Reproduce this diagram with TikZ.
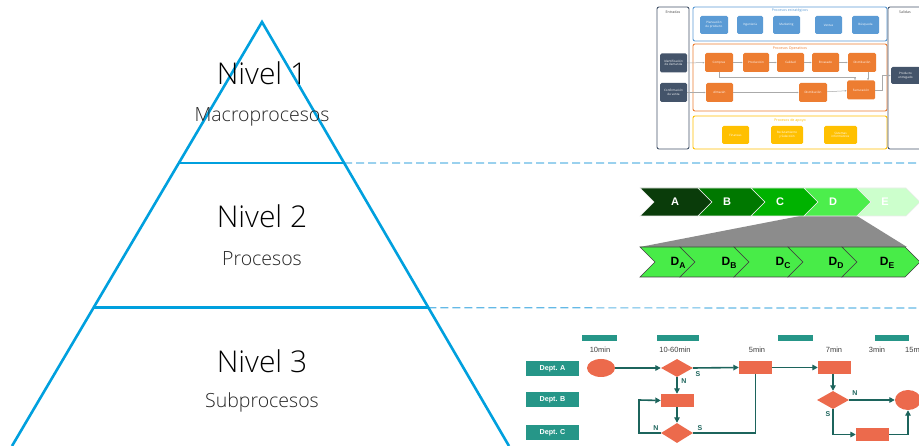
\documentclass[tikz,border=0pt]{standalone}
\usepackage{fontspec}
\setmainfont{Open Sans}
\newfontfamily\lightf{Open Sans Light}
\newfontfamily\arialf{Liberation Sans}
\usetikzlibrary{shapes.geometric,arrows.meta,calc}

\definecolor{pyrblue}{RGB}{0,160,222}
\definecolor{dashblue}{RGB}{100,185,230}
\definecolor{gdark}{RGB}{68,84,106}
\definecolor{gblue}{RGB}{91,155,213}
\definecolor{gorange}{RGB}{237,125,49}
\definecolor{gyellow}{RGB}{255,192,0}
\definecolor{garrowc}{RGB}{170,170,170}
\definecolor{cA}{RGB}{10,60,10}
\definecolor{cB}{RGB}{0,120,0}
\definecolor{cC}{RGB}{0,178,0}
\definecolor{cD}{RGB}{76,238,76}
\definecolor{cE}{RGB}{204,255,204}
\definecolor{cDD}{RGB}{72,236,72}
\definecolor{trap}{RGB}{140,140,140}
\definecolor{fcoral}{RGB}{236,106,76}
\definecolor{fteal}{RGB}{38,150,136}
\definecolor{fline}{RGB}{28,100,92}

\begin{document}
\begin{tikzpicture}[x=1pt,y=-1pt,
  pyr/.style={draw=pyrblue,line width=2.6pt},
  lvl/.style={font=\lightf\fontsize{30}{36}\selectfont,text=black,anchor=base,inner sep=0pt},
  lvlsub/.style={font=\lightf\fontsize{19.5}{24}\selectfont,text=black!85,anchor=base,inner sep=0pt},
  sep/.style={draw=dashblue,line width=1.2pt,dash pattern=on 8pt off 4pt},
  % macro-process map
  frame/.style={rounded corners=2pt,line width=0.9pt},
  ttl/.style={font=\fontsize{3.6}{4}\selectfont,inner sep=0pt},
  mbox/.style={rounded corners=1.5pt,inner sep=0pt,align=center,text=white,
    font=\fontsize{3}{3.6}\selectfont},
  marrow/.style={draw=garrowc,line width=0.5pt,-{Latex[length=2pt,width=1.8pt]}},
  % chevron chain
  chevtop/.style={draw=white!85!gray,line width=0.6pt},
  chevbot/.style={draw=black!75,line width=0.6pt,fill=cDD},
  toplab/.style={font=\arialf\bfseries\fontsize{11}{12}\selectfont,text=white,inner sep=0pt},
  botlab/.style={font=\arialf\bfseries\fontsize{12}{13}\selectfont,text=black,inner sep=0pt},
  % sub-process flowchart
  tbar/.style={fill=fteal,minimum width=#1,minimum height=6pt,inner sep=0pt},
  tlab/.style={font=\arialf\fontsize{7.5}{8}\selectfont,text=black!75,inner sep=0pt},
  dept/.style={fill=fteal,text=white,font=\arialf\bfseries\fontsize{7.2}{8}\selectfont,
    minimum width=53pt,minimum height=15pt,inner sep=0pt},
  fbox/.style={fill=fcoral,minimum width=33pt,minimum height=13pt,inner sep=0pt},
  fdia/.style={diamond,fill=fcoral,minimum width=32pt,minimum height=18pt,inner sep=0pt},
  fell/.style={ellipse,fill=fcoral,minimum width=28pt,minimum height=18pt,inner sep=0pt},
  flow/.style={draw=fline,line width=1.6pt,-{Triangle[length=5.5pt,width=5.5pt]}},
  fflat/.style={draw=fline,line width=1.6pt},
  flab/.style={font=\arialf\bfseries\fontsize{7}{8}\selectfont,text=fline,inner sep=0pt}
]
\useasboundingbox (0,0) rectangle (919,446);
\fill[white] (0,0) rectangle (919,446);

% ---------------- pyramid ----------------
\coordinate (apex) at (262,22);
\coordinate (bl) at (12,446);
\coordinate (br) at (509,446);
\coordinate (l1) at ($(apex)!0.3325!(bl)$);
\coordinate (r1) at ($(apex)!0.3325!(br)$);
\coordinate (l2) at ($(apex)!0.674!(bl)$);
\coordinate (r2) at ($(apex)!0.674!(br)$);
\coordinate (e1) at (919,163);
\coordinate (e2) at (919,308);

\draw[sep] (r1) -- (e1);
\draw[sep] (r2) -- (e2);
\draw[pyr,line join=miter] (bl) -- (apex) -- (br);
\draw[pyr] (l1) -- (r1);
\draw[pyr] (l2) -- (r2);

\node[lvl] (niv1) at (262,85) {Nivel 1};
\node[lvlsub] (sub1) at (262,122) {Macroprocesos};
\node[lvl] (niv2) at (262,228) {Nivel 2};
\node[lvlsub] (sub2) at (262,266) {Procesos};
\node[lvl] (niv3) at (262,373) {Nivel 3};
\node[lvlsub] (sub3) at (262,407) {Subprocesos};

% ---------------- macro-process map ----------------
\draw[frame,draw=gdark] (657,7) rectangle (689,149);
\draw[frame,draw=gblue] (693,7) rectangle (887,41);
\draw[frame,draw=gorange] (693,44) rectangle (887,111);
\draw[frame,draw=gyellow] (693,116) rectangle (887,149);
\draw[frame,draw=gdark] (888,7) rectangle (940,149);

\node[ttl,text=black!70] (tin) at (673,12) {Entradas};
\node[ttl,text=gblue] (test) at (790,11) {Procesos estratégicos};
\node[ttl,text=gorange] (top) at (790,49) {Procesos Operativos};
\node[ttl,text=gyellow] (tap) at (790,120.5) {Procesos de apoyo};
\node[ttl,text=black!70] (tout) at (905,12) {Salidas};

\node[mbox,fill=gblue,minimum width=28pt,minimum height=18pt] (s1) at (714,25) {Planeación\\de producto};
\node[mbox,fill=gblue,minimum width=26pt,minimum height=18pt] (s2) at (750,25) {Ingeniería};
\node[mbox,fill=gblue,minimum width=27pt,minimum height=18pt] (s3) at (786.5,25) {Marketing};
\node[mbox,fill=gblue,minimum width=27pt,minimum height=18pt] (s4) at (828.5,25) {Ventas};
\node[mbox,fill=gblue,minimum width=27pt,minimum height=18pt] (s5) at (865.5,25) {Búsqueda};

\node[mbox,fill=gdark,minimum width=27pt,minimum height=19pt] (in1) at (673.5,63) {Identificación\\de demanda};
\node[mbox,fill=gdark,minimum width=27pt,minimum height=19pt] (in2) at (673.5,92.5) {Confirmación\\de venta};
\node[mbox,fill=gdark,minimum width=29pt,minimum height=17pt] (out1) at (905.5,75.5) {Producto\\entregado};

\node[mbox,fill=gorange,minimum width=28pt,minimum height=19pt] (o1) at (719,62.5) {Compras};
\node[mbox,fill=gorange,minimum width=26pt,minimum height=19pt] (o2) at (756,62.5) {Producción};
\node[mbox,fill=gorange,minimum width=27pt,minimum height=19pt] (o3) at (790.5,62.5) {Calidad};
\node[mbox,fill=gorange,minimum width=27pt,minimum height=19pt] (o4) at (825.5,62.5) {Envasado};
\node[mbox,fill=gorange,minimum width=28pt,minimum height=19pt] (o5) at (862,62.5) {Distribución};
\node[mbox,fill=gorange,minimum width=27pt,minimum height=19pt] (o6) at (719.5,92.5) {Almacén};
\node[mbox,fill=gorange,minimum width=28pt,minimum height=19pt] (o7) at (813,92.5) {Distribución};
\node[mbox,fill=gorange,minimum width=28pt,minimum height=19pt] (o8) at (861,90) {Facturación};

\node[mbox,fill=gyellow,minimum width=27pt,minimum height=18pt] (a1) at (735.5,135) {Finanzas};
\node[mbox,fill=gyellow,minimum width=32pt,minimum height=18pt] (a2) at (787,135) {Reclutamiento\\y Selección};
\node[mbox,fill=gyellow,minimum width=33pt,minimum height=18pt] (a3) at (840.5,135) {Sistemas\\informáticos};

\draw[marrow] (in1) -- (o1);
\draw[marrow] (o1) -- (o2);
\draw[marrow] (o2) -- (o3);
\draw[marrow] (o3) -- (o4);
\draw[marrow] (o4) -- (o5);
\draw[marrow] (in2) -- (o6);
\draw[marrow] (o6) -- (o7);
\draw[marrow] (o7) -- (o8);
\coordinate (cm1) at (719,77);
\coordinate (cm2) at (855,77);
\draw[marrow] (o1.south) -- (cm1) -- (cm2) -- (cm2 |- o8.north);
\draw[marrow] (o5.south -| 868,0) -- (868,80.5);
\coordinate (cm3) at (882,90);
\coordinate (cm4) at (882,75.5);
\draw[marrow] (o8.east) -- (cm3) -- (cm4) -- (out1.west);

% ---------------- chevron chain ----------------
\fill[trap] (800,216) -- (857,216) -- (907,247) -- (640,247) -- cycle;

\filldraw[chevtop,fill=cA] (640,188) -- (698,188) -- (712,202) -- (698,216) -- (640,216) -- (654,202) -- cycle;
\filldraw[chevtop,fill=cB] (698,188) -- (751,188) -- (765,202) -- (751,216) -- (698,216) -- (712,202) -- cycle;
\filldraw[chevtop,fill=cC] (751,188) -- (804,188) -- (818,202) -- (804,216) -- (751,216) -- (765,202) -- cycle;
\filldraw[chevtop,fill=cD] (804,188) -- (857,188) -- (871,202) -- (857,216) -- (804,216) -- (818,202) -- cycle;
\filldraw[chevtop,fill=cE] (857,188) -- (906,188) -- (920,202) -- (906,216) -- (857,216) -- (871,202) -- cycle;

\node[toplab] (cha) at (675,202) {A};
\node[toplab] (chb) at (727,202) {B};
\node[toplab] (chc) at (780,202) {C};
\node[toplab] (chd) at (833,202) {D};
\node[toplab] (che) at (885,202) {E};

\filldraw[chevbot] (640,247) -- (680,247) -- (695,262) -- (680,277) -- (640,277) -- (655,262) -- cycle;
\filldraw[chevbot] (680,247) -- (734,247) -- (749,262) -- (734,277) -- (680,277) -- (695,262) -- cycle;
\filldraw[chevbot] (734,247) -- (788,247) -- (803,262) -- (788,277) -- (734,277) -- (749,262) -- cycle;
\filldraw[chevbot] (788,247) -- (842,247) -- (857,262) -- (842,277) -- (788,277) -- (803,262) -- cycle;
\filldraw[chevbot] (842,247) -- (905,247) -- (920,262) -- (905,277) -- (842,277) -- (857,262) -- cycle;

\node[botlab] (da) at (678,263) {D\raisebox{-2.5pt}{\fontsize{8.5}{9}\selectfont A}};
\node[botlab] (db) at (729,263) {D\raisebox{-2.5pt}{\fontsize{8.5}{9}\selectfont B}};
\node[botlab] (dc) at (783,263) {D\raisebox{-2.5pt}{\fontsize{8.5}{9}\selectfont C}};
\node[botlab] (dd) at (836,263) {D\raisebox{-2.5pt}{\fontsize{8.5}{9}\selectfont D}};
\node[botlab] (de) at (887,263) {D\raisebox{-2.5pt}{\fontsize{8.5}{9}\selectfont E}};

% ---------------- sub-process flowchart ----------------
\node[tbar=35pt] (bar1) at (599.5,338) {};
\node[tbar=42pt] (bar2) at (678,338) {};
\node[tbar=35pt] (bar3) at (795.5,338) {};
\node[tbar=34pt] (bar4) at (892,338) {};

\node[tlab] (t1) at (600,350) {10min};
\node[tlab] (t2) at (675,350) {10-60min};
\node[tlab] (t3) at (757,350) {5min};
\node[tlab] (t4) at (834,350) {7min};
\node[tlab] (t5) at (877,350) {3min};
\node[tlab,anchor=west] (t6) at (905,350) {15min};

\node[dept] (da1) at (552.5,368.5) {Dept. A};
\node[dept] (db1) at (552.5,400) {Dept. B};
\node[dept] (dc1) at (552.5,432.5) {Dept. C};

\node[fell] (st) at (601,368) {};
\node[fdia] (q1) at (677,368) {};
\node[fbox] (p1) at (755.5,367.5) {};
\node[fbox] (p2) at (834.5,367.5) {};
\node[fbox] (pb) at (677.5,400.5) {};
\node[fdia,minimum height=20pt] (qc) at (677,433) {};
\node[fdia] (q2) at (833,400) {};
\node[fell,minimum width=26pt,minimum height=20pt] (en) at (908,400) {};
\node[fbox] (p3) at (872.5,434.5) {};

\coordinate (lp) at (639,400);

\draw[flow] (st) -- (q1);
\draw[flow] (q1.east) -- (p1.west);
\draw[flow] (q1.south) -- (pb.north -| q1.south);
\draw[flow] (p1.east) -- (p2.west);
\draw[flow] (pb.south -| qc.north) -- (qc.north);
\draw[flow] (qc.west) -| (lp) -- (pb.west);
\draw[fflat] (qc.east) -| (p1.south);
\draw[flow] (p2.south -| q2.north) -- (q2.north);
\draw[flow] (q2.east) -- (en.west);
\draw[flow] (q2.south) |- (p3.west);
\draw[flow] (p3.east) -| (en.south);

\node[flab] (ls1) at (698,374) {S};
\node[flab] (ln1) at (684,381) {N};
\node[flab] (ln2) at (656,428) {N};
\node[flab] (ls2) at (700,428) {S};
\node[flab] (ln3) at (855,393) {N};
\node[flab] (ls3) at (828,414) {S};
\end{tikzpicture}
\end{document}
